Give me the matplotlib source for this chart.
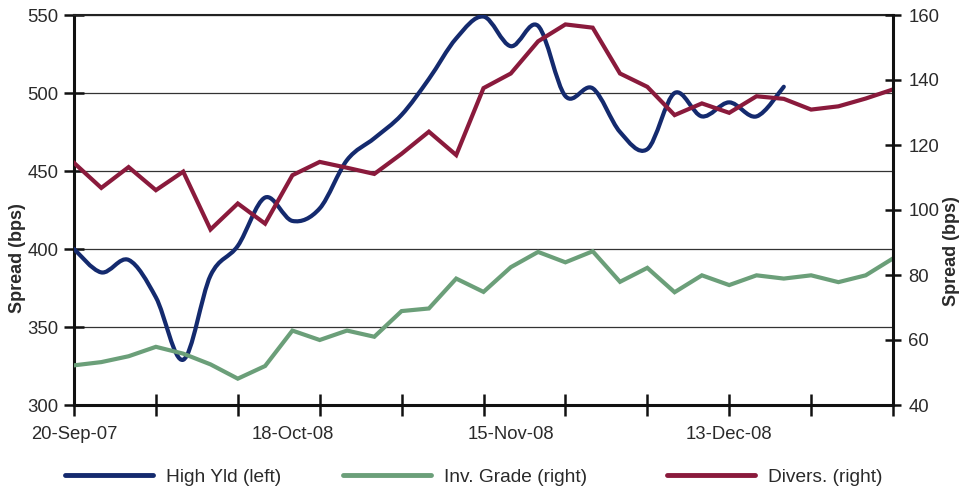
import numpy as np
import matplotlib
matplotlib.use("Agg")
import matplotlib.pyplot as plt
from matplotlib.path import Path
from matplotlib.patches import PathPatch
from matplotlib.lines import Line2D

plt.rcParams['font.family'] = ['Liberation Sans', 'DejaVu Sans']

# category labels along the x axis (one label every 8 observations)
date_labels = ['20-Sep-07', '18-Oct-08', '15-Nov-08', '13-Dec-08']
label_pos = [0, 8, 16, 24]

# spreads in bps
high_yld = [400, 385, 393, 369, 329, 383, 402, 433, 418, 426, 457, 471, 486, 509,
            535, 549, 530, 543, 498, 503, 475, 464, 500, 485, 494, 485, 504]
inv_grade = [52.2, 53.2, 55.0, 57.9, 55.8, 52.5, 48.1, 52.0, 62.9, 60.0, 62.9, 61.0,
             68.9, 69.7, 78.9, 74.8, 82.4, 87.1, 83.9, 87.3, 77.9, 82.2, 74.7, 79.9,
             76.9, 79.9, 78.9, 79.9, 77.8, 79.9, 85.1]
divers = [114.5, 106.8, 113.2, 106.1, 111.8, 94.0, 102.0, 95.8, 110.7, 114.8, 113.0,
          111.1, 117.3, 124.1, 116.9, 137.5, 142.0, 151.9, 157.1, 156.1, 142.0, 137.9,
          129.2, 132.8, 129.9, 135.0, 134.2, 130.9, 131.9, 134.3, 137.1]

c_blue = '#142a6e'
c_green = '#6b9f79'
c_red = '#8a1a3c'
c_text = '#2a2a2a'
lw = 3.0


def smooth_path(xs, ys):
    # cubic bezier through every point (catmull-rom style tangents)
    n = len(xs)
    verts = [(xs[0], ys[0])]
    codes = [Path.MOVETO]
    for i in range(n - 1):
        a = max(i - 1, 0)
        b = min(i + 2, n - 1)
        c1 = (xs[i] + (xs[i + 1] - xs[a]) / 6, ys[i] + (ys[i + 1] - ys[a]) / 6)
        c2 = (xs[i + 1] - (xs[b] - xs[i]) / 6, ys[i + 1] - (ys[b] - ys[i]) / 6)
        verts += [c1, c2, (xs[i + 1], ys[i + 1])]
        codes += [Path.CURVE4] * 3
    return Path(verts, codes)


fig = plt.figure(figsize=(9.72, 4.87), dpi=100)
ax = fig.add_axes([74 / 972, 1 - 405 / 487, 819 / 972, 390 / 487])
ax2 = ax.twinx()

x_hy = np.arange(len(high_yld))
x_all = np.arange(len(divers))

ax.add_patch(PathPatch(smooth_path(x_hy, high_yld), fill=False, ec=c_blue, lw=lw,
                       capstyle='round', joinstyle='round', zorder=3))
ax2.plot(x_all, inv_grade, color=c_green, lw=lw, solid_joinstyle='miter')
ax2.plot(x_all, divers, color=c_red, lw=lw, solid_joinstyle='miter')

ax.set_xlim(0, 30)
ax.set_ylim(300, 550)
ax2.set_ylim(40, 160)
ax.set_yticks(range(300, 551, 50))
ax2.set_yticks(range(40, 161, 20))

ax.yaxis.grid(True, color='#333333', lw=0.9)
ax.set_axisbelow(True)

# x ticks every 3 points, date labels on separate (minor) ticks
ax.set_xticks(range(0, 31, 3))
ax.set_xticklabels([])
ax.xaxis.remove_overlapping_locs = False
ax.set_xticks(label_pos, date_labels, minor=True)
ax.tick_params(axis='x', which='major', direction='inout', length=16, width=1.8,
               color='#111111')
ax.tick_params(axis='x', which='minor', length=0, pad=15, labelsize=13.3,
               labelcolor=c_text)
ax.tick_params(axis='y', direction='inout', length=14, width=1.8, pad=4,
               labelsize=13.3, labelcolor=c_text, color='#111111')
ax2.tick_params(axis='y', direction='inout', length=12, width=1.8, pad=5,
                labelsize=13.3, labelcolor=c_text, color='#111111')

for s in ['left', 'bottom']:
    ax.spines[s].set_linewidth(2.2)
    ax.spines[s].set_color('#111111')
ax.spines['top'].set_linewidth(1.5)
ax.spines['top'].set_color('#222222')
ax.spines['right'].set_visible(False)
for s in ['left', 'bottom', 'top']:
    ax2.spines[s].set_visible(False)
ax2.spines['right'].set_linewidth(2.2)
ax2.spines['right'].set_color('#111111')

ax.set_ylabel('Spread (bps)', fontsize=13, fontweight='bold', color=c_text)
ax.yaxis.set_label_coords(-0.058, 0.377)
ax2.set_ylabel('Spread (bps)', fontsize=13, fontweight='bold', color=c_text)
ax2.yaxis.set_label_coords(1.061, 0.395)

# legend entries laid out along the bottom
items = [('High Yld (left)', c_blue, 65), ('Inv. Grade (right)', c_green, 343),
         ('Divers. (right)', c_red, 667)]
for name, col, xp in items:
    h = Line2D([], [], color=col, lw=3.5, solid_capstyle='round')
    fig.legend(handles=[h], labels=[name], loc='center left',
               bbox_to_anchor=(xp / 972, 0.02), frameon=False, handlelength=4.6,
               handletextpad=0.65, borderpad=0, borderaxespad=0, fontsize=13.8,
               labelcolor=c_text)

fig.savefig('out.png', dpi=100)
